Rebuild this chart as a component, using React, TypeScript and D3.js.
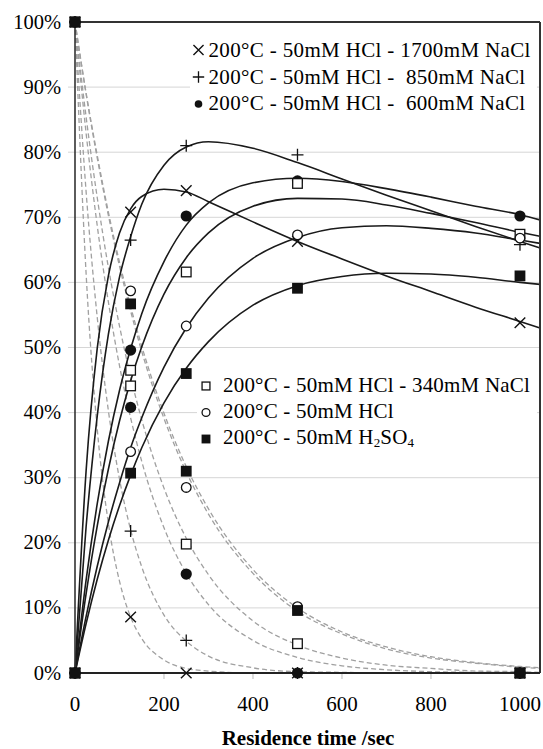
import React from "react";
import * as d3 from "d3";

// residence times of the measured points (s)
const pointTimes = [0, 125, 250, 500, 1000];
const fitTimes = [0, 25, 50, 75, 100, 125, 150, 200, 250, 300, 400, 500, 600, 700, 800, 900, 1000, 1045];

const seriesNames = [
  "200°C - 50mM HCl - 1700mM NaCl",
  "200°C - 50mM HCl - \u00A0850mM NaCl",
  "200°C - 50mM HCl - \u00A0600mM NaCl",
  "200°C - 50mM HCl - 340mM NaCl",
  "200°C - 50mM HCl",
  "200°C - 50mM H2SO4",
];
const seriesMarkers = ["cross", "plus", "dot", "square", "circle", "block"];

// product yield (%) – measured points
const prodNaCl1700 = [0, 70.8, 74.1, 66.3, 53.8];
const prodNaCl850 = [0, 66.5, 81.0, 79.6, 65.8];
const prodNaCl600 = [0, 49.6, 70.2, 75.6, 70.2];
const prodNaCl340 = [0, 46.5, 61.6, 75.2, 67.4];
const prodHCl = [0, 34.0, 53.3, 67.3, 66.8];
const prodH2SO4 = [0, 30.7, 46.0, 59.1, 61.0];

// remaining substrate (%) – measured points
const subNaCl1700 = [100, 8.6, 0, 0, 0];
const subNaCl850 = [100, 21.8, 5.0, 0, 0];
const subNaCl600 = [100, 40.8, 15.2, 0, 0];
const subNaCl340 = [100, 44.1, 19.8, 4.5, 0];
const subHCl = [100, 58.7, 28.5, 10.2, 0];
const subH2SO4 = [100, 56.7, 31.0, 9.6, 0];

// fitted product curves (solid), read at fitTimes
const fitProdNaCl1700 = [0, 31.1, 49.9, 61.0, 67.6, 71.3, 73.2, 74.3, 73.9, 72.4, 69.3, 66.3, 63.6, 61.0, 58.6, 56.2, 54.0, 53.0];
const fitProdNaCl850 = [0, 22.5, 39.5, 52.0, 60.8, 67.0, 72.0, 78.0, 80.8, 81.6, 80.6, 78.4, 75.9, 73.4, 71.0, 68.6, 66.3, 65.3];
const fitProdNaCl600 = [0, 14.3, 26.0, 35.6, 43.4, 49.8, 55.2, 63.2, 68.8, 72.2, 75.3, 76.0, 75.5, 74.4, 73.1, 71.7, 70.4, 69.6];
const fitProdNaCl340 = [0, 12.2, 22.6, 31.3, 38.7, 44.9, 50.1, 58.2, 63.8, 67.6, 71.7, 72.9, 72.8, 71.9, 70.6, 69.2, 67.7, 67.1];
const fitProdHCl = [0, 8.7, 16.4, 23.2, 29.2, 34.6, 39.2, 47.0, 53.0, 57.6, 63.7, 66.9, 68.4, 68.7, 68.3, 67.6, 66.5, 66.0];
const fitProdH2SO4 = [0, 7.6, 14.4, 20.4, 25.7, 30.4, 34.6, 41.5, 46.8, 50.9, 56.5, 59.5, 60.9, 61.4, 61.3, 60.8, 60.0, 59.7];

// fitted substrate curves (dashed), read at fitTimes
const fitSubNaCl1700 = [100, 61.3, 37.5, 23.0, 14.1, 8.6, 5.3, 2.0, 0.7, 0.3, 0, 0, 0, 0, 0, 0, 0, 0];
const fitSubNaCl850 = [100, 73.9, 54.6, 40.3, 29.8, 22.0, 16.3, 8.9, 4.9, 2.6, 0.8, 0.2, 0.1, 0, 0, 0, 0, 0];
const fitSubNaCl600 = [100, 82.9, 68.7, 57.0, 47.2, 39.2, 32.5, 22.3, 15.3, 10.5, 5.0, 2.4, 1.1, 0.5, 0.2, 0.1, 0.1, 0];
const fitSubNaCl340 = [100, 85.4, 73.0, 62.3, 53.3, 45.5, 38.9, 28.4, 20.7, 15.1, 8.0, 4.3, 2.3, 1.2, 0.7, 0.3, 0.2, 0.1];
const fitSubHCl = [100, 88.9, 79.1, 70.3, 62.5, 55.6, 49.4, 39.1, 30.9, 24.4, 15.3, 9.5, 6.0, 3.7, 2.3, 1.5, 0.9, 0.7];
const fitSubH2SO4 = [100, 89.1, 79.5, 70.8, 63.1, 56.3, 50.2, 39.9, 31.7, 25.2, 15.9, 10.0, 6.3, 4.0, 2.5, 1.6, 1.0, 0.8];

const yTicks = [0, 10, 20, 30, 40, 50, 60, 70, 80, 90, 100];
const xTicks = [0, 200, 400, 600, 800, 1000];

const prodPoints = [prodNaCl1700, prodNaCl850, prodNaCl600, prodNaCl340, prodHCl, prodH2SO4];
const subPoints = [subNaCl1700, subNaCl850, subNaCl600, subNaCl340, subHCl, subH2SO4];
const prodFits = [fitProdNaCl1700, fitProdNaCl850, fitProdNaCl600, fitProdNaCl340, fitProdHCl, fitProdH2SO4];
const subFits = [fitSubNaCl1700, fitSubNaCl850, fitSubNaCl600, fitSubNaCl340, fitSubHCl, fitSubH2SO4];

const INK = "#111";
const SERIF = "Liberation Serif";

const Marker: React.FC<{ type: string; x: number; y: number; s?: number }> = ({ type, x, y, s = 1 }) => {
  switch (type) {
    case "cross": {
      const h = 5.3 * s;
      return (
        <path d={`M${x - h},${y - h}L${x + h},${y + h}M${x - h},${y + h}L${x + h},${y - h}`} stroke={INK} strokeWidth={1.4} />
      );
    }
    case "plus": {
      const h = 6 * s;
      return <path d={`M${x - h},${y}L${x + h},${y}M${x},${y - h}L${x},${y + h}`} stroke={INK} strokeWidth={1.3} />;
    }
    case "dot":
      return <circle cx={x} cy={y} r={5.6 * s} fill={INK} />;
    case "circle":
      return <circle cx={x} cy={y} r={4.8 * s} fill="#fff" stroke={INK} strokeWidth={1.3} />;
    case "square": {
      const h = 4.8 * s;
      return <rect x={x - h} y={y - h} width={2 * h} height={2 * h} fill="#fff" stroke={INK} strokeWidth={1.3} />;
    }
    default: {
      const h = 5.4 * s;
      return <rect x={x - h} y={y - h} width={2 * h} height={2 * h} fill={INK} />;
    }
  }
};

const legendLabel = (name: string) => {
  if (!name.includes("H2SO4")) return name;
  const head = name.replace("H2SO4", "");
  return (
    <>
      {head}H
      <tspan fontSize={13} dy={3}>2</tspan>
      <tspan dy={-3}>SO</tspan>
      <tspan fontSize={13} dy={3}>4</tspan>
    </>
  );
};

export default function App() {
  const left = 75;
  const right = 540;
  const top = 22;
  const bottom = 673;

  const x = d3.scaleLinear().domain([0, 1045]).range([left, right]);
  const y = d3.scaleLinear().domain([0, 100]).range([bottom, top]);

  const fitLine = d3
    .line<number>()
    .x((_, i) => x(fitTimes[i]))
    .y((d) => y(d))
    .curve(d3.curveMonotoneX);

  return (
    <svg width={543} height={749} style={{ position: "absolute", left: 0, top: 0, background: "#fff" }}>
      <style>{`text, tspan { font-family: "Liberation Serif", "Times New Roman", Tinos, serif !important; }`}</style>
      <rect width={543} height={749} fill="#fff" />

      {/* gridlines */}
      {yTicks.slice(1, -1).map((t) => (
        <line key={t} x1={left - 7} x2={right} y1={y(t)} y2={y(t)} stroke="#d6d6d6" strokeWidth={1} />
      ))}
      {xTicks.slice(1).map((t) => (
        <line key={t} x1={x(t)} x2={x(t)} y1={bottom} y2={bottom + 6} stroke="#bbb" strokeWidth={1} />
      ))}

      {/* substrate fits */}
      {subFits.map((s, i) => (
        <path key={i} d={fitLine(s) || ""} fill="none" stroke="#a0a0a0" strokeWidth={1.3} strokeDasharray="5,3" />
      ))}

      {/* product fits */}
      {prodFits.map((s, i) => (
        <path key={i} d={fitLine(s) || ""} fill="none" stroke="#1a1a1a" strokeWidth={1.6} />
      ))}

      {/* frame */}
      <line x1={left} x2={right} y1={top} y2={top} stroke="#333" strokeWidth={2} />
      <line x1={right} x2={right} y1={top} y2={bottom} stroke="#333" strokeWidth={2} />
      <line x1={left} x2={left} y1={top} y2={bottom} stroke="#333" strokeWidth={1.6} />
      <line x1={left} x2={right} y1={bottom} y2={bottom} stroke="#222" strokeWidth={1.8} />

      {/* measured points */}
      {seriesMarkers.map((m, i) => (
        <g key={i}>
          {subPoints[i].map((v, j) => (
            <Marker key={"s" + j} type={m} x={x(pointTimes[j])} y={y(v)} />
          ))}
          {prodPoints[i].map((v, j) => (
            <Marker key={"p" + j} type={m} x={x(pointTimes[j])} y={y(v)} />
          ))}
        </g>
      ))}

      {/* axes labels */}
      {yTicks.map((t) => (
        <text key={t} x={61} y={y(t) + 6.5} fontFamily={SERIF} fontSize={20.5} textAnchor="end" style={{ fontFamily: SERIF }}>
          {t}%
        </text>
      ))}
      {xTicks.map((t) => (
        <text key={t} x={x(t)} y={711} fontFamily={SERIF} fontSize={21} textAnchor="middle" style={{ fontFamily: SERIF }}>
          {t}
        </text>
      ))}
      <text x={308} y={745} fontFamily={SERIF} fontSize={21} fontWeight="bold" textAnchor="middle" style={{ fontFamily: SERIF }}>
        Residence time /sec
      </text>

      {/* legends */}
      <rect x={190} y={30} width={347} height={95} fill="#fff" />
      <rect x={197} y={356} width={340} height={112} fill="#fff" />
      {[0, 1, 2].map((i) => (
        <Marker key={"m" + i} type={seriesMarkers[i]} x={198.5} y={50 + i * 27} s={i === 2 ? 0.68 : 0.95} />
      ))}
      {[0, 1, 2].map((i) => (
        <text key={"t" + i} x={208.5} y={57 + i * 26.7} fontFamily={SERIF} fontSize={21} letterSpacing={0.35} style={{ fontFamily: SERIF }}>
          {seriesNames[i]}
        </text>
      ))}
      {[3, 4, 5].map((i, r) => (
        <Marker key={"m" + i} type={seriesMarkers[i]} x={206} y={386 + r * 26.5} s={0.82} />
      ))}
      {[3, 4, 5].map((i, r) => (
        <text key={"t" + i} x={223} y={392 + r * 26.2} fontFamily={SERIF} fontSize={21} letterSpacing={0.2} style={{ fontFamily: SERIF }}>
          {legendLabel(seriesNames[i])}
        </text>
      ))}
    </svg>
  );
}
